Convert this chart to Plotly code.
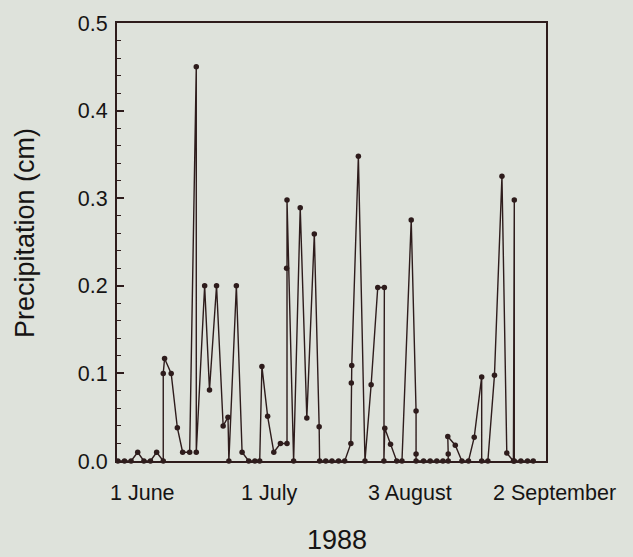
import plotly.graph_objects as go

# ---- data (x in day-of-year 1988, y in cm) ----
day = [147.3, 148.8, 150.3, 151.8, 153.2, 154.7, 156.1, 157.6, 157.6, 157.9,
       159.4, 160.8, 162.0, 163.6, 165.1, 165.1, 167.0, 168.1, 169.7, 171.2,
       172.3, 172.5, 174.2, 175.5, 177.0, 178.4, 179.5, 180.0, 181.3, 182.7,
       184.2, 185.7, 185.6, 185.7, 187.2, 188.7, 190.2, 191.9, 193.0, 193.1,
       194.5, 195.9, 197.4, 198.8, 200.2, 200.3, 200.4, 201.9, 203.4, 204.8,
       206.3, 207.8, 207.7, 207.9, 209.2, 210.6, 211.8, 213.9, 215.0, 215.0,
       215.0, 216.7, 218.2, 219.7, 221.1, 222.3, 222.3, 222.2, 223.9, 225.4,
       226.9, 228.2, 229.9, 229.9, 231.3, 232.8, 234.5, 235.6, 237.1, 237.3,
       237.3, 238.8, 240.3, 241.6]
precip = [0.0, 0.0, 0.0, 0.01, 0.0, 0.0, 0.01, 0.0, 0.10, 0.117,
          0.10, 0.038, 0.01, 0.01, 0.45, 0.01, 0.20, 0.081, 0.20, 0.04,
          0.05, 0.0, 0.20, 0.01, 0.0, 0.0, 0.0, 0.108, 0.051, 0.01,
          0.02, 0.02, 0.22, 0.298, 0.0, 0.289, 0.049, 0.259, 0.039, 0.0,
          0.0, 0.0, 0.0, 0.0, 0.02, 0.089, 0.109, 0.348, 0.0, 0.087,
          0.198, 0.198, 0.0, 0.0375, 0.019, 0.0, 0.0, 0.275, 0.057, 0.008,
          0.0, 0.0, 0.0, 0.0, 0.0, 0.0, 0.008, 0.028, 0.018, 0.0,
          0.0, 0.027, 0.096, 0.0, 0.0, 0.098, 0.325, 0.009, 0.0, 0.298,
          0.0, 0.0, 0.0, 0.0]

tick_labels = ["1 June", "1 July", "3 August", "2 September"]
label_days = [153.0, 181.7, 213.6, 246.4]
y_ticks = [0.0, 0.1, 0.2, 0.3, 0.4, 0.5]
x_range = [147.1, 244.5]
y_range = [0.0, 0.5]

INK = "#2e1c1c"
TXT = "#161414"
BG = "#dee2db"
FONT = "Liberation Sans, Arial, Helvetica, sans-serif"

fig = go.Figure()
fig.add_trace(go.Scatter(
    x=day, y=precip, mode="lines+markers",
    line=dict(color=INK, width=1.4),
    marker=dict(color=INK, size=5.5),
    cliponaxis=False, showlegend=False,
))

fig.update_layout(
    width=633, height=557,
    margin=dict(l=117, r=87, t=16, b=96),
    paper_bgcolor=BG, plot_bgcolor=BG,
    font=dict(family=FONT, size=21.5, color=TXT),
    yaxis2=dict(
        overlaying="y", side="right", range=y_range, tickvals=y_ticks,
        showticklabels=False, ticks="inside", ticklen=6, tickwidth=1.5,
        tickcolor=INK, showline=False, showgrid=False, zeroline=False,
        minor=dict(dtick=0.02, ticks="inside", ticklen=3.5, tickwidth=1.2,
                   tickcolor=INK, showgrid=False),
    ),
)
fig.update_xaxes(
    range=x_range, showline=True, linecolor=INK, linewidth=2, mirror=True,
    showticklabels=False, ticks="", showgrid=False, zeroline=False,
)
fig.update_yaxes(
    selector=dict(overlaying=None),
    range=y_range, tickvals=y_ticks, tickformat=".1f",
    ticks="inside", ticklen=7, tickwidth=1.5, tickcolor=INK,
    showline=True, linecolor=INK, linewidth=2, mirror=True,
    showgrid=False, zeroline=False, ticklabelstandoff=3,
    minor=dict(dtick=0.02, ticks="inside", ticklen=4, tickwidth=1.2,
               tickcolor=INK, showgrid=False),
)

span = x_range[1] - x_range[0]
for lab, d in zip(tick_labels, label_days):
    fig.add_annotation(
        x=(d - x_range[0]) / span, xref="paper", y=0, yref="paper",
        text=lab, showarrow=False, xanchor="center", yanchor="middle",
        yshift=-32, font=dict(family=FONT, size=21.5, color=TXT),
    )

fig.add_annotation(
    x=0, xref="paper", y=0.5, yref="paper", text="Precipitation (cm)",
    textangle=-90, showarrow=False, xanchor="center", yanchor="middle",
    xshift=-92, yshift=9, font=dict(family=FONT, size=27, color=TXT),
)
fig.add_annotation(
    x=(337 - 117) / 429, xref="paper", y=0, yref="paper", text="1988",
    showarrow=False, xanchor="center", yanchor="middle",
    yshift=-79, font=dict(family=FONT, size=27, color=TXT),
)

fig.write_html("out.html", config={"displayModeBar": False},
               post_script="document.body.style.margin='0';")
